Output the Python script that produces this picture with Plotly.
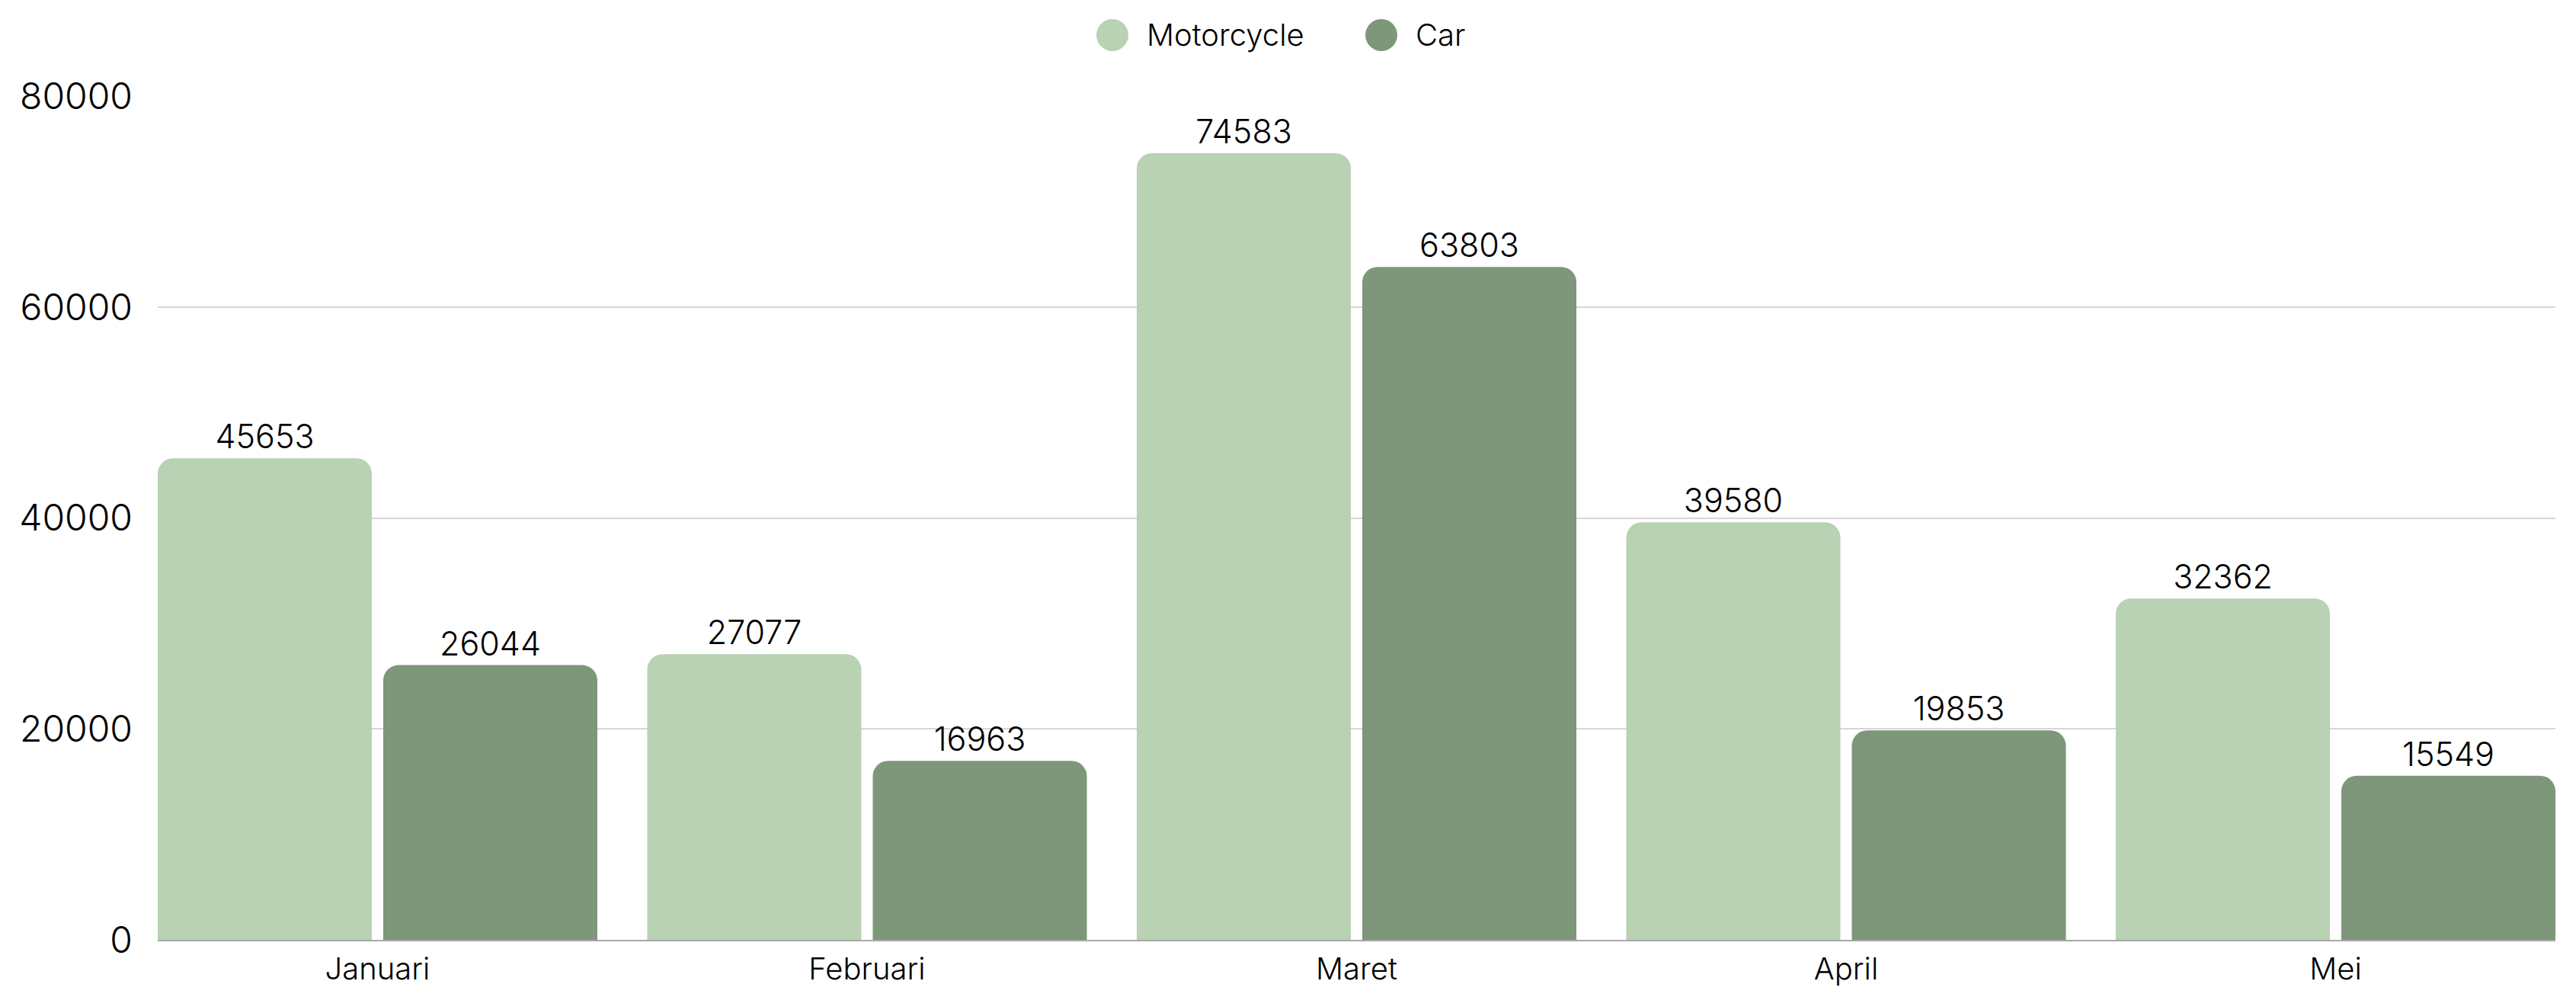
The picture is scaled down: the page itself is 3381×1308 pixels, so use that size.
import plotly.graph_objects as go

months = ["Januari", "Februari", "Maret", "April", "Mei"]
motorcycle = [45653, 27077, 74583, 39580, 32362]
car = [26044, 16963, 63803, 19853, 15549]
series_names = ["Motorcycle", "Car"]
y_ticks = [0, 20000, 40000, 60000, 80000]

MOTO_COLOR = "#B8D2B3"
CAR_COLOR = "#7E967A"
FONT = "Inter"
FS = 40
FS_BAR = 43
FS_Y = 48
FW = 300

W, H = 3381, 1308
L, R, T, B = 207, 27, 126, 75
plot_w = W - L - R
plot_h = H - T - B

fig = go.Figure()
for name, vals, col in [(series_names[0], motorcycle, MOTO_COLOR),
                        (series_names[1], car, CAR_COLOR)]:
    fig.add_trace(go.Bar(
        name=name, x=months, y=vals,
        marker=dict(color=col, line=dict(width=0), cornerradius=20),
        text=[str(v) for v in vals], texttemplate="%{text}", textposition="outside",
        textfont=dict(family=FONT, size=FS_BAR, color="#000000", weight=FW),
        constraintext="none", cliponaxis=False, showlegend=False,
    ))

fig.update_layout(
    width=W, height=H,
    margin=dict(l=L, r=R, t=T, b=B, autoexpand=False),
    paper_bgcolor="white", plot_bgcolor="white",
    barmode="group", bargap=0.0786, bargroupgap=0.0507,
    font=dict(family=FONT, size=FS, color="#000000", weight=FW),
    showlegend=False,
)
fig.update_xaxes(
    range=[-0.449, 4.449], showgrid=False, showline=True,
    linecolor="#a8a8a8", linewidth=2, ticks="", ticklabelstandoff=2,
    tickfont=dict(family=FONT, size=FS, color="#000000", weight=FW),
)
fig.update_yaxes(
    range=[0, 80000], tickvals=y_ticks, ticktext=[str(v) for v in y_ticks],
    showgrid=True, gridcolor="#d6d6d6", gridwidth=2, zeroline=False,
    showline=False, ticks="", ticklabelstandoff=32,
    tickfont=dict(family=FONT, size=FS_Y, color="#000000", weight=FW),
)

# custom legend (large circle markers) in paper coordinates
def px_x(px):
    return (px - L) / plot_w

def px_y(py):
    return (H - B - py) / plot_h

legend_items = [(series_names[0], MOTO_COLOR, 1460, 1503),
                (series_names[1], CAR_COLOR, 1813, 1856)]
for name, col, cx, tx in legend_items:
    fig.add_shape(type="circle", xref="paper", yref="paper",
                  xsizemode="pixel", ysizemode="pixel",
                  xanchor=px_x(cx), yanchor=px_y(46),
                  x0=-21, x1=21, y0=-21, y1=21,
                  fillcolor=col, line=dict(width=0), layer="above")
    fig.add_annotation(x=px_x(tx), y=px_y(46), xref="paper", yref="paper",
                       text=name, showarrow=False, xanchor="left", yanchor="middle",
                       font=dict(family=FONT, size=FS, color="#000000", weight=FW))

fig.write_html("out.html", config={"displayModeBar": False},
               post_script="document.body.style.margin='0';")
